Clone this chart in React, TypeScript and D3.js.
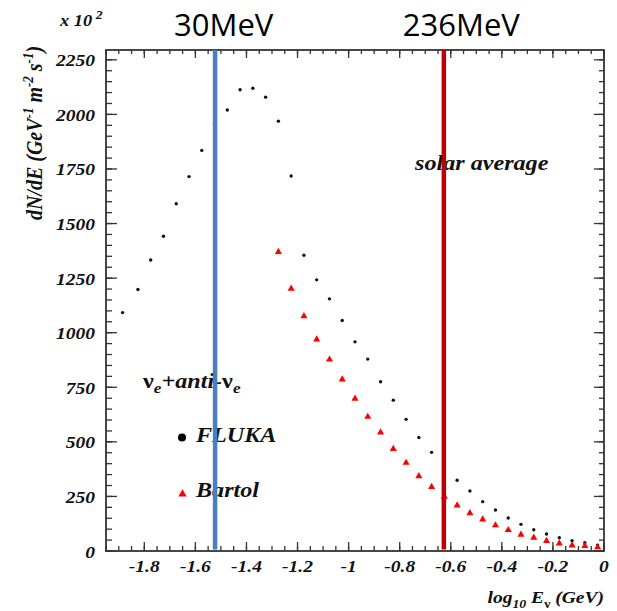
import React from 'react';
import * as d3 from 'd3';

// FLUKA (black dots): log10(E/GeV) bin centres and dN/dE (x10^2)
const flukaX = [-1.885, -1.825, -1.775, -1.725, -1.675, -1.625, -1.575, -1.525, -1.475, -1.425, -1.375, -1.325, -1.275, -1.225, -1.175, -1.125, -1.075, -1.025, -0.975, -0.925, -0.875, -0.825, -0.775, -0.725, -0.675, -0.625, -0.575, -0.525, -0.475, -0.425, -0.375, -0.325, -0.275, -0.225, -0.175, -0.125, -0.075, -0.025];
const flukaY = [1092, 1198, 1333, 1442, 1591, 1715, 1835, 1960, 2020, 2113, 2120, 2079, 1969, 1718, 1355, 1242, 1155, 1056, 958, 879, 775, 691, 603, 520, 452, 386, 324, 275, 226, 188, 151, 122, 97, 78, 61, 47, 38, 27];

// Bartol (red triangles)
const bartolX = [-1.275, -1.225, -1.175, -1.125, -1.075, -1.025, -0.975, -0.925, -0.875, -0.825, -0.775, -0.725, -0.675, -0.625, -0.575, -0.525, -0.475, -0.425, -0.375, -0.325, -0.275, -0.225, -0.175, -0.125, -0.075, -0.025];
const bartolY = [1370, 1202, 1076, 969, 877, 786, 698, 615, 543, 468, 404, 343, 294, 249, 209, 173, 145, 118, 96, 75, 61, 46, 35, 26, 23, 17];

// Marker energies (GeV)
const markerEnergies = [0.030, 0.236];
const markerLabels = ['30MeV', '236MeV'];
const markerColors = ['#4a7ebf', '#c00000'];

const xTickValues = [-1.8, -1.6, -1.4, -1.2, -1, -0.8, -0.6, -0.4, -0.2, 0];
const xTickLabels = ['-1.8', '-1.6', '-1.4', '-1.2', '-1', '-0.8', '-0.6', '-0.4', '-0.2', '0'];
const yTickValues = [0, 250, 500, 750, 1000, 1250, 1500, 1750, 2000, 2250];
const yTickLabels = ['0', '250', '500', '750', '1000', '1250', '1500', '1750', '2000', '2250'];

const SERIF = "'Liberation Serif', 'Times New Roman', serif";
const SX = 1.15;

export default function App() {
  const L = 106, R = 604, T = 50, B = 551;
  const x = d3.scaleLinear().domain([-1.95, 0]).range([L, R]);
  const y = d3.scaleLinear().domain([0, 2295]).range([B, T]);

  const xMinor = d3.range(0, 40).map((i) => +(-1.95 + i * 0.05).toFixed(2)).filter((v) => v <= 0.0001);
  const yMinor = d3.range(0, 46).map((i) => i * 50);

  const tri = d3.symbol().type(d3.symbolTriangle).size(22)();
  const triLegend = d3.symbol().type(d3.symbolTriangle).size(30)();

  const axisColor = '#333';

  const st = (tx: number, ty: number) => `translate(${tx},${ty}) scale(${SX},1)`;

  return (
    <svg width={617} height={611} style={{ position: 'absolute', left: 0, top: 0, background: '#fff' }}>
      <rect x={0} y={0} width={617} height={611} fill="#fff" />

      {/* ticks */}
      <g stroke={axisColor} strokeWidth={1.3}>
        {xMinor.map((v, i) => (
          <g key={'xm' + i}>
            <line x1={x(v)} x2={x(v)} y1={B} y2={B - 5} />
            <line x1={x(v)} x2={x(v)} y1={T} y2={T + 4} />
          </g>
        ))}
        {xTickValues.map((v, i) => (
          <g key={'xM' + i}>
            <line x1={x(v)} x2={x(v)} y1={B} y2={B - 9} />
            <line x1={x(v)} x2={x(v)} y1={T} y2={T + 8} />
          </g>
        ))}
        {yMinor.map((v, i) => (
          <g key={'ym' + i}>
            <line x1={L} x2={L + 6} y1={y(v)} y2={y(v)} />
            <line x1={R} x2={R - 5} y1={y(v)} y2={y(v)} />
          </g>
        ))}
        {yTickValues.map((v, i) => (
          <g key={'yM' + i}>
            <line x1={L} x2={L + 11} y1={y(v)} y2={y(v)} />
            <line x1={R} x2={R - 10} y1={y(v)} y2={y(v)} />
          </g>
        ))}
      </g>
      <rect x={L} y={T} width={R - L} height={B - T} fill="none" stroke={axisColor} strokeWidth={1.8} />

      {/* tick labels */}
      <g fontFamily={SERIF} fontWeight="bold" fontStyle="italic" fontSize={17} fill="#111">
        {xTickValues.map((v, i) => (
          <text key={'xl' + i} transform={st(x(v), 571.5)} textAnchor="middle">{xTickLabels[i]}</text>
        ))}
        {yTickValues.map((v, i) => (
          <text key={'yl' + i} transform={st(95, y(v) + 6.5)} textAnchor="end">{yTickLabels[i]}</text>
        ))}
      </g>

      {/* x 10^2 */}
      <text transform={st(60, 26)} fontFamily={SERIF} fontWeight="bold" fontStyle="italic" fontSize={16} fill="#111">
        x 10<tspan fontSize={12} dx={3} dy={-7}>2</tspan>
      </text>

      {/* axis titles */}
      <text transform={`translate(42,133) scale(${SX},1) rotate(-90)`} textAnchor="middle" fontFamily={SERIF} fontWeight="bold" fontStyle="italic" fontSize={20} fill="#111">
        dN/dE (GeV<tspan fontSize={13} dy={-8}>-1</tspan><tspan dy={8}> m</tspan><tspan fontSize={13} dy={-8}>-2</tspan><tspan dy={8}> s</tspan><tspan fontSize={13} dy={-8}>-1</tspan><tspan dy={8}>)</tspan>
      </text>
      <text transform={st(604, 603)} textAnchor="end" fontFamily={SERIF} fontWeight="bold" fontStyle="italic" fontSize={17} fill="#111">
        log<tspan fontSize={12} dy={5}>10</tspan><tspan dy={-5}> E</tspan><tspan fontSize={12} dy={5} fontStyle="normal">ν</tspan><tspan dy={-5}> (GeV)</tspan>
      </text>

      {/* solar average */}
      <text transform={st(415, 170)} fontFamily={SERIF} fontWeight="bold" fontStyle="italic" fontSize={21} fill="#111">solar average</text>

      {/* data: FLUKA */}
      <g fill="#111">
        {flukaX.map((v, i) => (
          <circle key={'f' + i} cx={x(v)} cy={y(flukaY[i])} r={1.7} />
        ))}
      </g>
      {/* data: Bartol */}
      <g fill="#ff0000">
        {bartolX.map((v, i) => (
          <path key={'b' + i} d={tri as string} transform={`translate(${x(v)},${y(bartolY[i])})`} />
        ))}
      </g>

      {/* legend */}
      <g fontFamily={SERIF} fontWeight="bold" fontStyle="italic" fill="#111">
        <text transform={st(143, 388)} fontSize={21}>
          <tspan fontStyle="normal">ν</tspan><tspan fontSize={15} dy={5}>e</tspan><tspan dy={-5}>+anti-</tspan><tspan fontStyle="normal">ν</tspan><tspan fontSize={15} dy={5}>e</tspan>
        </text>
        <circle cx={182} cy={437.5} r={4} fill="#000" />
        <text transform={st(196, 442)} fontSize={21}>FLUKA</text>
        <path d={triLegend as string} transform="translate(182.5,494)" fill="#ff0000" />
        <text transform={st(196, 496.5)} fontSize={21}>Bartol</text>
      </g>

      {/* marker lines */}
      {markerEnergies.map((e, i) => {
        const px = x(Math.log10(e));
        return (
          <g key={'m' + i}>
            <line x1={px} x2={px} y1={T} y2={B - 1.5} stroke={markerColors[i]} strokeWidth={4.5} />
            <text x={px - 41} y={36} fontFamily="'Open Sans', 'Noto Sans', sans-serif" fontSize={31} fill="#000">{markerLabels[i]}</text>
          </g>
        );
      })}
    </svg>
  );
}
